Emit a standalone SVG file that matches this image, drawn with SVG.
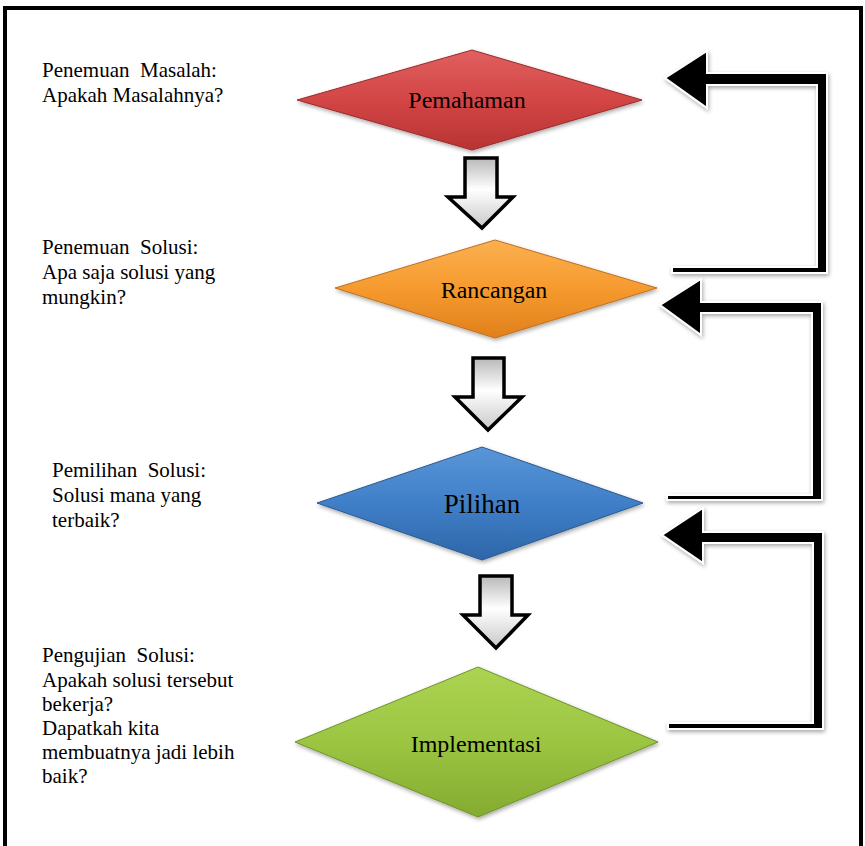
<svg xmlns="http://www.w3.org/2000/svg" width="865" height="846" viewBox="0 0 865 846">
<defs>
<style>
.lbl{font-family:"Liberation Serif","Times New Roman",serif;font-size:21px;fill:#000;white-space:pre}
.dl{font-family:"Liberation Serif","Times New Roman",serif;font-size:24px;fill:#000;text-anchor:middle}
.darr{stroke:#000;stroke-width:3.5;fill:url(#gw);stroke-linejoin:miter}
.fb{fill:#000;stroke:#fff;stroke-width:2;stroke-linejoin:miter;filter:url(#sh)}
</style>
<filter id="sh" x="-20%" y="-20%" width="140%" height="140%">
<feGaussianBlur in="SourceAlpha" stdDeviation="2"/>
<feOffset dx="1" dy="2" result="b"/>
<feComponentTransfer><feFuncA type="linear" slope="0.35"/></feComponentTransfer>
<feMerge><feMergeNode/><feMergeNode in="SourceGraphic"/></feMerge>
</filter>
<linearGradient id="gw" x1="0" y1="0" x2="0" y2="1">
<stop offset="0" stop-color="#b8b8b8"/>
<stop offset="0.45" stop-color="#ffffff"/>
<stop offset="1" stop-color="#c8c8c8"/>
</linearGradient>
<linearGradient id="gr" x1="0" y1="0" x2="0" y2="1">
<stop offset="0" stop-color="#e06060"/>
<stop offset="0.5" stop-color="#d34545"/>
<stop offset="1" stop-color="#b83434"/>
</linearGradient>
<linearGradient id="go" x1="0" y1="0" x2="0" y2="1">
<stop offset="0" stop-color="#fbb050"/>
<stop offset="0.5" stop-color="#f69a2e"/>
<stop offset="1" stop-color="#e0801c"/>
</linearGradient>
<linearGradient id="gb" x1="0" y1="0" x2="0" y2="1">
<stop offset="0" stop-color="#5a96d8"/>
<stop offset="0.5" stop-color="#3f7fc8"/>
<stop offset="1" stop-color="#2e66a8"/>
</linearGradient>
<linearGradient id="gg" x1="0" y1="0" x2="0" y2="1">
<stop offset="0" stop-color="#acd452"/>
<stop offset="0.5" stop-color="#9cc542"/>
<stop offset="1" stop-color="#84ab30"/>
</linearGradient>
</defs>
<rect x="0" y="0" width="865" height="846" fill="#fff"/>
<rect x="5" y="8" width="856" height="850" fill="none" stroke="#000" stroke-width="4"/>

<g id="connectors">
<path class="darr" d="M465,158 H497 V197 H513 L482,228 L448,197 H465 Z"/>
<path class="darr" d="M473,358 H504 V397 H522 L488,430 L455,397 H473 Z"/>
<path class="darr" d="M480,576 H512 V615 H528 L496,648 L463,615 H480 Z"/>
<path class="fb" d="M665,78 L707,51 V73 H827 V273 H672 V267 H817 V85 H707 V108 Z"/>
<path class="fb" d="M660,305 L701,279 V302 H822 V500 H667 V495 H812 V313 H701 V335 Z"/>
<path class="fb" d="M662,535 L703,508 V532 H823 V729 H668 V723 H813 V543 H703 V563 Z"/>
</g>

<g id="pemahaman">
<polygon points="297,100 472,50 642,100 472,150" fill="url(#gr)" stroke="#9a2a2a" stroke-width="1" filter="url(#sh)"/>
<text class="dl" x="467" y="108">Pemahaman</text>
</g>
<g id="rancangan">
<polygon points="335,288 495,240 657,288 495,338" fill="url(#go)" stroke="#c07020" stroke-width="1" filter="url(#sh)"/>
<text class="dl" x="494" y="298">Rancangan</text>
</g>
<g id="pilihan">
<polygon points="317,503 482,447 643,503 482,560" fill="url(#gb)" stroke="#2a5a90" stroke-width="1" filter="url(#sh)"/>
<text class="dl" x="482" y="513" style="font-size:27px">Pilihan</text>
</g>
<g id="implementasi">
<polygon points="295,742 478,667 658,742 478,817" fill="url(#gg)" stroke="#6f9428" stroke-width="1" filter="url(#sh)"/>
<text class="dl" x="476" y="752">Implementasi</text>
</g>

<g id="label-masalah">
<text class="lbl" x="42" y="77">Penemuan  Masalah:</text>
<text class="lbl" x="42" y="102">Apakah Masalahnya?</text>
</g>
<g id="label-solusi">
<text class="lbl" x="42" y="254">Penemuan  Solusi:</text>
<text class="lbl" x="42" y="279">Apa saja solusi yang</text>
<text class="lbl" x="42" y="304">mungkin?</text>
</g>
<g id="label-pemilihan">
<text class="lbl" x="52" y="477">Pemilihan  Solusi:</text>
<text class="lbl" x="52" y="502">Solusi mana yang</text>
<text class="lbl" x="52" y="527">terbaik?</text>
</g>
<g id="label-pengujian">
<text class="lbl" x="42" y="662">Pengujian  Solusi:</text>
<text class="lbl" x="42" y="687">Apakah solusi tersebut</text>
<text class="lbl" x="42" y="711">bekerja?</text>
<text class="lbl" x="42" y="735">Dapatkah kita</text>
<text class="lbl" x="42" y="759">membuatnya jadi lebih</text>
<text class="lbl" x="42" y="783">baik?</text>
</g>
</svg>
